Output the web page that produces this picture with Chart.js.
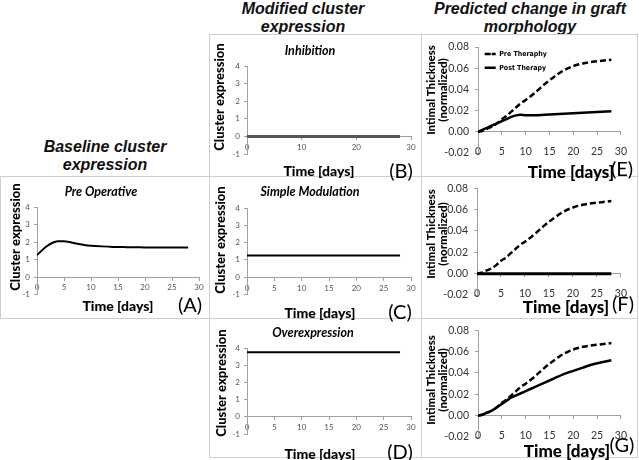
<!DOCTYPE html>
<html>
<head>
<meta charset="utf-8">
<script src="https://cdn.jsdelivr.net/npm/chart.js@4.4.1/dist/chart.umd.min.js"></script>
<style>
  body { margin: 0; width: 639px; height: 460px; position: relative; overflow: hidden; background: #fff; }
  .cell { position: absolute; box-sizing: border-box; border: 1px solid #cfcfcf; }
  canvas { position: absolute; }
  .head { position: absolute; font-family: 'Liberation Sans', Arial, sans-serif; font-weight: bold; font-style: italic;
          font-size: 16px; line-height: 18px; text-align: center; color: #111; }
</style>
</head>
<body>

<div class="head" style="left:5px;top:138px;width:200px">Baseline cluster<br>expression</div>
<div class="head" style="left:203px;top:0px;width:200px">Modified cluster<br>expression</div>
<div class="head" style="left:420px;top:0px;width:220px">Predicted change in graft<br>morphology</div>

<div class="cell" style="left:0;top:176px;width:210px;height:143px"></div>
<div class="cell" style="left:209px;top:34px;width:213px;height:143px"></div>
<div class="cell" style="left:209px;top:176px;width:213px;height:143px"></div>
<div class="cell" style="left:209px;top:318px;width:213px;height:140px"></div>
<div class="cell" style="left:421px;top:34px;width:217px;height:143px"></div>
<div class="cell" style="left:421px;top:176px;width:217px;height:143px"></div>
<div class="cell" style="left:421px;top:318px;width:217px;height:140px"></div>

<!-- canvases run a little past their cells so the bottom labels are not cut -->
<canvas id="cA" width="210" height="155" style="left:0;top:176px"></canvas>
<canvas id="cB" width="213" height="155" style="left:209px;top:34px"></canvas>
<canvas id="cC" width="213" height="155" style="left:209px;top:176px"></canvas>
<canvas id="cD" width="213" height="152" style="left:209px;top:318px"></canvas>
<canvas id="cE" width="217" height="155" style="left:421px;top:34px"></canvas>
<canvas id="cF" width="217" height="155" style="left:421px;top:176px"></canvas>
<canvas id="cG" width="217" height="152" style="left:421px;top:318px"></canvas>

<script>
// --- data ---
const days = [0, 1, 2, 3, 4, 5, 6, 7, 8, 9, 10, 12, 14, 16, 18, 20, 22, 24, 26, 28];
const flatDays = [0, 28];

// cluster expression
const preOperative = [1.25, 1.55, 1.8, 1.97, 2.05, 2.05, 2.0, 1.93, 1.87, 1.82, 1.79, 1.75, 1.72, 1.71, 1.70, 1.69, 1.68, 1.68, 1.68, 1.68];
const inhibition = [0, 0];
const simpleModulation = [1.25, 1.25];
const overexpression = [3.75, 3.75];

// intimal thickness (normalized)
const preTherapy = [0, 0.001, 0.003, 0.005, 0.008, 0.012, 0.015, 0.019, 0.023, 0.027, 0.030, 0.037, 0.045, 0.052, 0.058, 0.062, 0.0645, 0.066, 0.067, 0.068];
const postInhibition = [0, 0.002, 0.004, 0.006, 0.008, 0.010, 0.012, 0.014, 0.0155, 0.016, 0.0155, 0.0155, 0.016, 0.0165, 0.017, 0.0175, 0.018, 0.0185, 0.019, 0.0195];
const postModulation = [0, 0];
const postOverexpression = [0, 0.001, 0.003, 0.005, 0.008, 0.011, 0.014, 0.017, 0.019, 0.021, 0.023, 0.027, 0.031, 0.035, 0.039, 0.042, 0.045, 0.048, 0.050, 0.052];

const exprTicks = [-1, 4, 1];        // min, max, step
const thickTicks = [-0.02, 0.08, 0.02];
const legendLabels = ['Pre Theraphy', 'Post Therapy'];

const pts = (xs, ys) => xs.map((x, i) => ({ x, y: ys[i] }));

// draws panel titles, axis titles and the (A)...(G) tags
const panelText = (items) => ({
  id: 'panelText',
  afterDraw(chart) {
    const ctx = chart.ctx;
    items.forEach(t => {
      ctx.save();
      ctx.translate(t[1], t[2]);
      if (t[4]) ctx.rotate(-Math.PI / 2);
      ctx.font = t[3];
      ctx.fillStyle = '#000';
      ctx.textAlign = 'center';
      ctx.textBaseline = 'middle';
      ctx.fillText(t[0], 0, 0);
      ctx.restore();
    });
  }
});

const F_TITLE = 'italic bold 12.5px Lato';
const F_YT = '900 13px Lato';
const F_YT2 = '900 11.5px Lato';
const F_XT = '900 14px Lato';
const F_XT2 = '900 17px Lato';
const F_TAG = '20px Lato';

function makeChart(id, c) {
  const right = c.kind === 'thick';
  const range = right ? thickTicks : exprTicks;
  return new Chart(document.getElementById(id), {
    type: 'line',
    data: { datasets: c.datasets },
    options: {
      responsive: false,
      animation: false,
      devicePixelRatio: 1,
      layout: { padding: c.pad },
      elements: { point: { radius: 0 }, line: { cubicInterpolationMode: 'monotone' } },
      plugins: {
        tooltip: { enabled: false },
        legend: c.legend ? {
          display: true,
          position: 'chartArea',
          align: 'start',
          // blank title only pushes the rows down to their place
          title: { display: true, text: ' ', font: { size: 7, lineHeight: 1.2 }, padding: 0.7 },
          labels: {
            boxWidth: 11, boxHeight: 0, padding: 6.7, color: '#000',
            font: { family: "'Liberation Sans Narrow', 'DejaVu Sans Condensed', sans-serif", size: 7, weight: 'bold' }
          }
        } : { display: false }
      },
      scales: {
        x: {
          type: 'linear',
          position: { y: 0 },
          min: 0, max: 30,
          ticks: {
            stepSize: c.xStep, padding: right ? 11 : 3,
            color: right ? '#333' : '#555',
            font: { family: 'Lato', size: right ? 10.5 : 8 }
          },
          grid: { drawOnChartArea: false, tickLength: 3, color: '#a0a0a0' },
          border: { color: '#a0a0a0' }
        },
        y: {
          min: range[0], max: range[1],
          afterFit(s) { s.width = c.yWidth; },
          ticks: {
            stepSize: range[2], padding: right ? 6 : 4,
            color: right ? '#333' : '#555',
            font: { family: 'Lato', size: right ? 10.5 : 8 },
            callback: v => right ? v.toFixed(2) : String(Math.round(v))
          },
          grid: { drawOnChartArea: false, tickLength: 3, color: '#a0a0a0' },
          border: { color: '#a0a0a0' }
        }
      }
    },
    plugins: [panelText(c.texts)]
  });
}

const solid = (data, w, col) => ({ data, borderColor: col || '#000', borderWidth: w, fill: false });
const dashed = (data) => ({ label: legendLabels[0], data, borderColor: '#000', borderWidth: 2.5, borderDash: [6, 3], fill: false });

// A
makeChart('cA', {
  kind: 'expr', xStep: 5, yWidth: 37, pad: { left: 0, top: 31, right: 11, bottom: 36.5 },
  datasets: [solid(pts(days, preOperative), 2)],
  texts: [['Pre Operative', 101, 16, F_TITLE], ['Cluster expression', 16, 61, F_YT, true],
          ['Time [days]', 118, 130, F_XT], ['(A)', 190, 130, F_TAG]]
});
// B
makeChart('cB', {
  kind: 'expr', xStep: 10, yWidth: 38, pad: { left: 0, top: 32, right: 11, bottom: 35 },
  datasets: [solid(pts(flatDays, inhibition), 3, '#555')],
  texts: [['Inhibition', 101, 17, F_TITLE], ['Cluster expression', 11, 63, F_YT, true],
          ['Time [days]', 110, 137, F_XT], ['(B)', 192, 138, F_TAG]]
});
// C
makeChart('cC', {
  kind: 'expr', xStep: 5, yWidth: 38, pad: { left: 0, top: 32, right: 11, bottom: 36.5 },
  datasets: [solid(pts(flatDays, simpleModulation), 2)],
  texts: [['Simple Modulation', 101, 16, F_TITLE], ['Cluster expression', 12, 64, F_YT, true],
          ['Time [days]', 111, 137, F_XT], ['(C)', 191, 137, F_TAG]]
});
// D
makeChart('cD', {
  kind: 'expr', xStep: 5, yWidth: 38, pad: { left: 0, top: 30, right: 11, bottom: 36 },
  datasets: [solid(pts(flatDays, overexpression), 2)],
  texts: [['Overexpression', 104, 15, F_TITLE], ['Cluster expression', 13, 65, F_YT, true],
          ['Time [days]', 111, 136, F_XT], ['(D)', 191, 135, F_TAG]]
});
// E
makeChart('cE', {
  kind: 'thick', xStep: 5, yWidth: 57, legend: true, pad: { left: 0, top: 13, right: 10, bottom: 36 },
  datasets: [dashed(pts(days, preTherapy)),
             Object.assign(solid(pts(days, postInhibition), 2.5), { label: legendLabels[1] })],
  texts: [['Intimal Thickness', 10, 56, F_YT2, true], ['(normalized)', 22.5, 56, F_YT2, true],
          ['Time [days]', 150, 139, F_XT2], ['(E)', 201, 136, F_TAG]]
});
// F
makeChart('cF', {
  kind: 'thick', xStep: 5, yWidth: 56, pad: { left: 0, top: 12, right: 10, bottom: 36 },
  datasets: [dashed(pts(days, preTherapy)), solid(pts(flatDays, postModulation), 3)],
  texts: [['Intimal Thickness', 10, 58, F_YT2, true], ['(normalized)', 22.5, 58, F_YT2, true],
          ['Time [days]', 145, 132, F_XT2], ['(F)', 202, 129, F_TAG]]
});
// G
makeChart('cG', {
  kind: 'thick', xStep: 5, yWidth: 57, pad: { left: 0, top: 8, right: 10, bottom: 33 },
  datasets: [dashed(pts(days, preTherapy)), solid(pts(days, postOverexpression), 2.5)],
  texts: [['Intimal Thickness', 10, 62, F_YT2, true], ['(normalized)', 22.5, 62, F_YT2, true],
          ['Time [days]', 146, 134, F_XT2], ['(G)', 201, 128, F_TAG]]
});
</script>
</body>
</html>
